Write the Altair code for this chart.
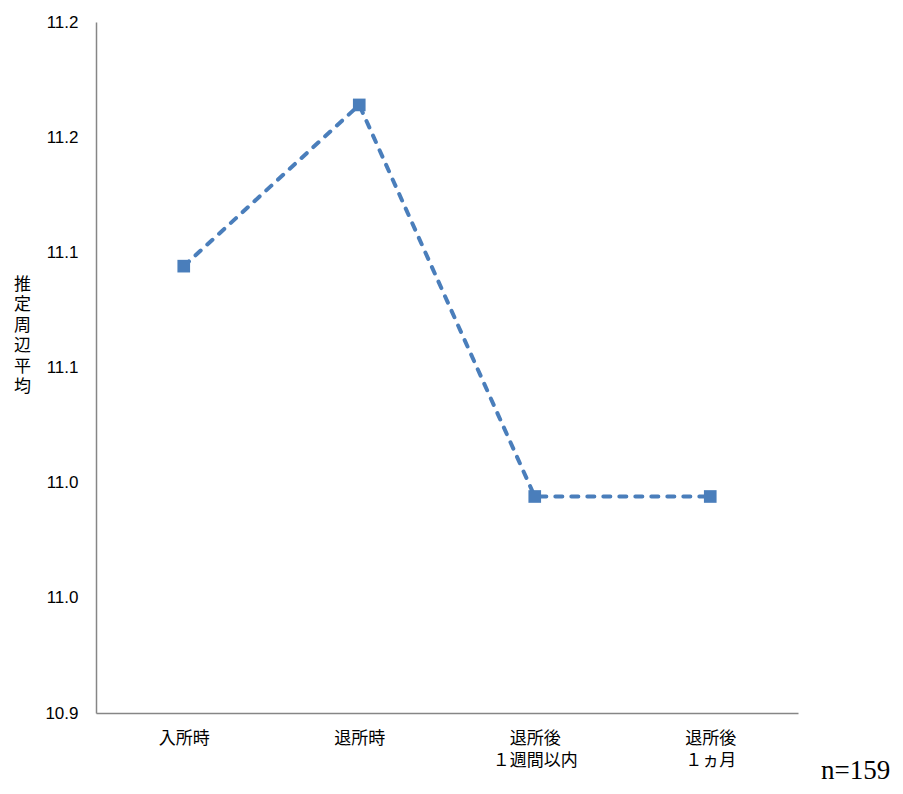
import altair as alt
import pandas as pd

categories = ["入所時", "退所時", "退所後 １週間以内", "退所後 １ヵ月"]
values = [11.094, 11.164, 10.994, 10.994]
tick_values = [10.90, 10.95, 11.00, 11.05, 11.10, 11.15, 11.20]
tick_labels = ["10.9", "11.0", "11.0", "11.1", "11.1", "11.2", "11.2"]
y_title = list("推定周辺平均")
note = "n=159"

df = pd.DataFrame({"cat": categories, "val": values, "order": range(len(categories))})

label_expr = " : ".join(
    [f"abs(datum.value - {v}) < 0.001 ? '{l}'" for v, l in zip(tick_values, tick_labels)]
) + " : ''"

color = "#4A7EBB"
jp_font = "Noto Sans CJK JP"
num_font = "Liberation Sans"

x = alt.X(
    "cat:N",
    sort=categories,
    scale=alt.Scale(type="point", padding=0.5),
    axis=alt.Axis(
        title=None,
        labelAngle=0,
        labelExpr="split(datum.label, ' ')",
        labelFont=jp_font,
        labelFontSize=17,
        labelColor="#000000",
        labelLineHeight=22.5,
        labelPadding=17,
        ticks=False,
        domainColor="#868686",
        domainWidth=1.5,
        grid=False,
    ),
)
y = alt.Y(
    "val:Q",
    scale=alt.Scale(domain=[10.9, 11.2], zero=False, nice=False),
    axis=alt.Axis(
        values=tick_values,
        labelExpr=label_expr,
        labelFont=num_font,
        labelFontSize=17,
        labelColor="#000000",
        labelPadding=18,
        ticks=False,
        grid=False,
        domainColor="#868686",
        domainWidth=1.5,
        title=y_title,
        titleAngle=0,
        titleFont=jp_font,
        titleFontSize=17,
        titleFontWeight="normal",
        titleColor="#000000",
        titleLineHeight=20.5,
        titleAlign="center",
        titleBaseline="top",
        titleX=-74,
        titleY=254,
    ),
)

line = alt.Chart(df).mark_line(
    color=color, strokeWidth=4, strokeDash=[7, 9], strokeCap="round"
).encode(x=x, y=y, order="order:Q")

points = alt.Chart(df).mark_point(
    shape="square", filled=True, size=160, color=color, opacity=1
).encode(x=x, y=y)

note_df = pd.DataFrame({"t": [note]})
note_mark = alt.Chart(note_df).mark_text(
    font="Liberation Serif", fontSize=27, align="left", baseline="alphabetic", color="#000000"
).encode(text="t:N", x=alt.value(725), y=alt.value(757))

chart = (
    alt.layer(line, points, note_mark)
    .properties(
        width=702,
        height=691,
        autosize=alt.AutoSizeParams(type="none"),
        padding={"left": 88, "top": 14, "right": 97, "bottom": 73},
    )
    .configure(background="#ffffff", view=alt.ViewConfig(stroke=None))
)

chart.save("out.html", embed_options={"renderer": "svg", "actions": False})
